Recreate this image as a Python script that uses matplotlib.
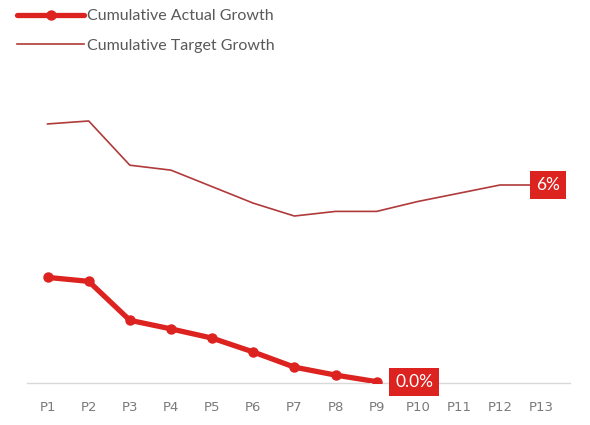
import matplotlib.pyplot as plt
import numpy as np

periods = ['P1', 'P2', 'P3', 'P4', 'P5', 'P6', 'P7', 'P8', 'P9', 'P10', 'P11', 'P12', 'P13']
actual_growth = [3.20, 3.08, 1.90, 1.64, 1.36, 0.94, 0.48, 0.24, 0.04]
target_growth = [7.85, 7.94, 6.60, 6.45, 5.95, 5.45, 5.06, 5.20, 5.20, 5.50, 5.75, 6.00, 6.00]

red = '#dc2320'
dark_red = '#b03a3a'
grey_text = '#7a7a7a'

plt.rcParams['font.family'] = ['Lato', 'DejaVu Sans']

fig = plt.figure(figsize=(5.9, 4.25), dpi=100)
ax = fig.add_axes([27 / 590, 42 / 425, (570 - 27) / 590, (383 - 60) / 425])

x_actual = np.arange(len(actual_growth))
x_target = np.arange(len(target_growth))

ax.plot(x_actual, actual_growth, color=red, lw=3.8, marker='o', markersize=6.5,
        label='Cumulative Actual Growth', solid_capstyle='round', zorder=3)
ax.plot(x_target, target_growth, color=dark_red, lw=1.2,
        label='Cumulative Target Growth', zorder=2)

# latest values in red tags
tag = dict(boxstyle='square,pad=0.35', fc=red, ec='none')
ax.annotate(f'{actual_growth[-1]:.1f}%', (x_actual[-1], actual_growth[-1]),
            xytext=(27, 0), textcoords='offset points', ha='center', va='center',
            color='white', fontsize=12.5, bbox=tag, zorder=4)
ax.annotate(f'{target_growth[-1]:.0f}%', (x_target[-1], target_growth[-1]),
            xytext=(5, 0), textcoords='offset points', ha='center', va='center',
            color='white', fontsize=12.5, bbox=tag, zorder=4)

ax.set_xlim(-0.5, 12.7)
ax.set_ylim(0, (383 - 60) / 33)
ax.set_xticks(x_target)
ax.set_xticklabels(periods, color=grey_text, fontsize=9.5, family='DejaVu Sans')
ax.tick_params(axis='x', length=0, pad=13)
ax.set_yticks([])
for side in ['left', 'right', 'top']:
    ax.spines[side].set_visible(False)
ax.spines['bottom'].set_color('#d9d9d9')
ax.spines['bottom'].set_linewidth(1)

leg = fig.legend(loc='upper left', bbox_to_anchor=(0.005, 1.012), frameon=False,
                 handlelength=4.2, handletextpad=0.15, labelspacing=0.95,
                 fontsize=11.5, numpoints=1)
for t in leg.get_texts():
    t.set_color('#595959')

fig.savefig('out.png', dpi=100)
